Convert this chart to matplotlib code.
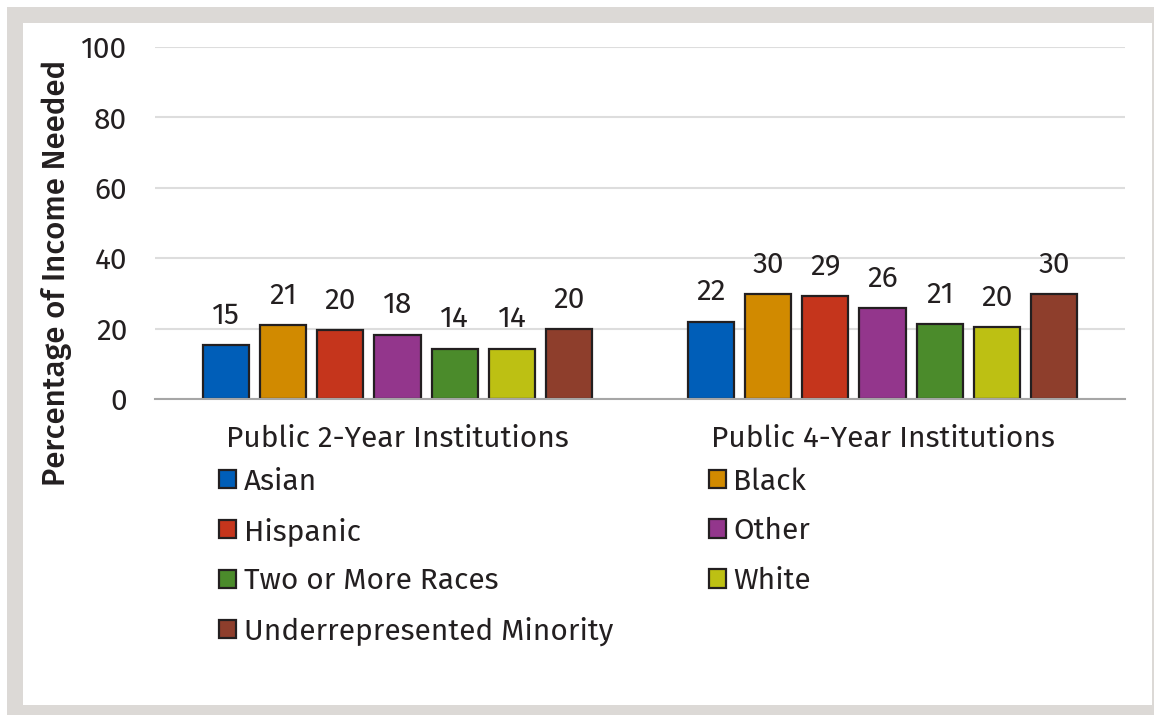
import matplotlib
matplotlib.use("Agg")
import matplotlib.pyplot as plt
from matplotlib.patches import Rectangle, Patch
import numpy as np

plt.rcParams['font.family'] = ['Fira Sans', 'Noto Sans', 'DejaVu Sans']

categories = ["Public 2-Year Institutions", "Public 4-Year Institutions"]
series = ["Asian", "Black", "Hispanic", "Other", "Two or More Races", "White",
          "Underrepresented Minority"]
values = {
    "Asian": [15.3, 22.0],
    "Black": [21.0, 29.8],
    "Hispanic": [19.6, 29.4],
    "Other": [18.3, 25.9],
    "Two or More Races": [14.3, 21.3],
    "White": [14.3, 20.4],
    "Underrepresented Minority": [19.8, 29.8],
}
colors = ["#005EB8", "#D18A00", "#C5351C", "#93368C", "#4B8B2B", "#BDC013", "#8E3E2C"]
yticks = [0, 20, 40, 60, 80, 100]

FS = 21.5
W, H = 1154, 715
fig = plt.figure(figsize=(W / 100, H / 100), dpi=100)
fig.patch.set_facecolor("white")
# frame
fig.patches.append(Rectangle((7 / W, 0), 1, 1 - 7 / H, transform=fig.transFigure,
                             facecolor="#DCD9D6", edgecolor="none", zorder=-10))
fig.patches.append(Rectangle((23 / W, 10 / H), (1152 - 23) / W, (705 - 23) / H,
                             transform=fig.transFigure, facecolor="white",
                             edgecolor="none", zorder=-9))

ax = fig.add_axes([155 / W, 1 - 399 / H, (1125 - 155) / W, (399 - 47) / H])
ax.set_facecolor("none")
x = np.arange(len(categories))
slot = 0.118
bw = 0.095
n = len(series)
handles = []
for i, (s, c) in enumerate(zip(series, colors)):
    pos = x + (i - (n - 1) / 2) * slot
    bars = ax.bar(pos, values[s], width=bw, color=c, edgecolor="#231F20",
                  linewidth=1.6, zorder=3)
    for b, v in zip(bars, values[s]):
        ax.annotate(f"{v:.0f}", (b.get_x() + b.get_width() / 2, v),
                    xytext=(0, 11), textcoords="offset points",
                    ha="center", va="bottom", fontsize=FS, color="#231F20")
    handles.append(Patch(facecolor=c, edgecolor="#231F20", linewidth=1.6, label=s))

ax.set_xlim(-0.5, 1.5)
ax.set_ylim(0, 100)
ax.set_yticks(yticks)
ax.set_yticklabels([str(t) for t in yticks], fontsize=FS, color="#231F20")
ax.set_xticks(x)
ax.set_xticklabels(categories, fontsize=FS, color="#231F20")
ax.tick_params(axis="both", length=0)
ax.tick_params(axis="y", pad=20)
ax.tick_params(axis="x", pad=18)
ax.grid(axis="y", color="#DDDDDD", linewidth=1.5, zorder=0)
for sp in ["top", "right", "left"]:
    ax.spines[sp].set_visible(False)
ax.spines["bottom"].set_color("#A6A6A6")
ax.spines["bottom"].set_linewidth(1.5)
ax.spines["bottom"].set_zorder(4)

fig.text(57 / W, 1 - 273 / H, "Percentage of Income Needed", rotation=90,
         ha="center", va="center", fontsize=22.4, color="#231F20", fontweight="medium")

order = [0, 2, 4, 6, 1, 3, 5]
leg = fig.legend([handles[i] for i in order], [series[i] for i in order],
                 ncol=2, loc="upper left", bbox_to_anchor=(219 / W, 1 - 467 / H),
                 frameon=False, fontsize=FS, handlelength=0.58, handleheight=0.58,
                 handletextpad=0.25, labelspacing=0.71, columnspacing=3.2,
                 borderaxespad=0, borderpad=0)
for t in leg.get_texts():
    t.set_color("#231F20")

fig.savefig("out.png", dpi=100)
